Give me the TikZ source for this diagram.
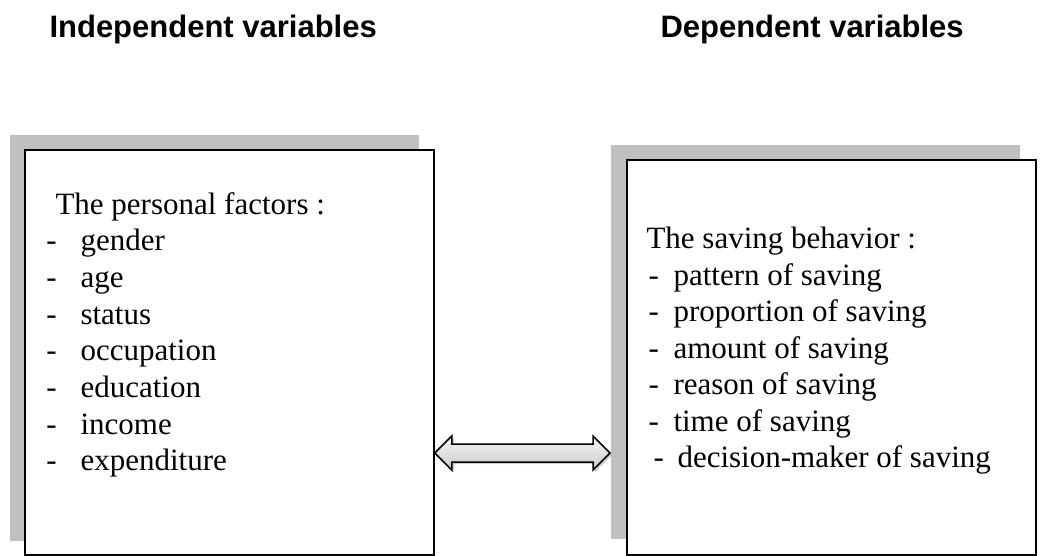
\documentclass[tikz,border=0pt]{standalone}
\usepackage{fontspec}
\setmainfont{Liberation Serif}
\newfontfamily\headfont{Liberation Sans}
\usetikzlibrary{calc,shadows}
\definecolor{shadowgray}{RGB}{192,192,192}

\begin{document}
\begin{tikzpicture}
[x=0.4pt,y=-0.4pt,
 every node/.style={font=\fontsize{12.4}{14.6}\selectfont, inner sep=0pt},
 vartitle/.style={font=\headfont\bfseries\fontsize{12.4}{14.6}\selectfont, anchor=base west},
 boxshadow/.style={fill=shadowgray, anchor=north west, minimum width=163.6pt},
 varbox/.style={draw=black, line width=0.7pt, fill=white, anchor=north west, minimum width=163.6pt},
 itemtext/.style={anchor=base west},
 linkarrow/.style={draw=black, line width=0.6pt, top color=gray!8, bottom color=gray!40,
   drop shadow={shadow xshift=0.8pt, shadow yshift=-0.8pt, opacity=0.4}}]

\useasboundingbox (0,0) rectangle (1041,555);

\node (tindep) at (49,37) [vartitle] {Independent variables};
\node (tdep) at (660,37) [vartitle] {Dependent variables};

\node (indepsh) at (9,134) [boxshadow, minimum height=162.4pt] {};
\node (indep) at (24,149) [varbox, minimum height=162pt] {};
\node (depsh) at (610,144) [boxshadow, minimum height=157.6pt] {};
\node (dep) at (626,159) [varbox, minimum height=158pt] {};

\node (pers) at (55,214) [itemtext] {The personal factors :};
\foreach \pf [count=\i] in {gender, age, status, occupation, education, income, expenditure} {
	\node (pdash\i) at (46,214+36.7*\i) [itemtext] {-};
	\node (pitem\i) at (80,214+36.7*\i) [itemtext] {\pf};
}

\node (sav) at (646,248.5) [itemtext] {The saving behavior :};
\foreach \sb [count=\i] in {pattern of saving, proportion of saving, amount of saving, reason of saving, time of saving} {
	\node (sdash\i) at (648,248.5+36.5*\i) [itemtext] {-};
	\node (sitem\i) at (673,248.5+36.5*\i) [itemtext] {\sb};
}
\node (sdash6) at (653,467.5) [itemtext] {-};
\node (sitem6) at (677,467.5) [itemtext] {decision-maker of saving};

\coordinate (arrowy) at (0,453);
\coordinate (a) at (indep.east |- arrowy);
\coordinate (b) at (depsh.west |- arrowy);
\draw[linkarrow] (a) -- ++(17,-17) -- ++(0,8) -- ($(b)+(-17,-9)$) -- ++(0,-8) -- (b)
	-- ++(-17,17) -- ++(0,-8) -- ($(a)+(17,9)$) -- ++(0,8) -- cycle;

\end{tikzpicture}
\end{document}
